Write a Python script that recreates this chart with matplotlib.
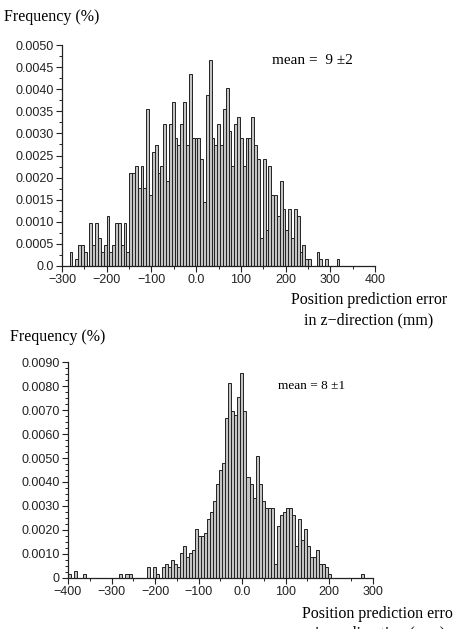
import numpy as np
import matplotlib
matplotlib.use('Agg')
import matplotlib.pyplot as plt
from matplotlib.ticker import MultipleLocator, FixedLocator

# top histogram: z-direction error, counts per bin
z_start = -283.0
z_width = 6.35
z_unit = 0.000161   # frequency of one sample
z_counts = [2, 0, 1, 3, 3, 2, 0, 6, 3, 6,
            4, 2, 3, 7, 2, 3, 6, 6, 3, 6,
            2, 13, 13, 14, 11, 14, 11, 22, 10, 16,
            17, 13, 14, 20, 12, 20, 23, 18, 17, 20,
            23, 17, 27, 18, 18, 18, 15, 9, 24, 29,
            18, 17, 20, 17, 22, 25, 19, 14, 20, 21,
            18, 14, 18, 18, 21, 17, 15, 4, 15, 5,
            14, 10, 10, 7, 12, 8, 5, 8, 4, 8,
            7, 2, 3, 1, 1, 0, 0, 2, 1, 0,
            1, 0, 0, 0, 1]

# bottom histogram: y-direction error
y_start = -400.0
y_width = 6.95
y_unit = 0.000145
y_counts = [1, 0, 2, 0, 0, 1, 0, 0, 0, 0,
            0, 0, 0, 0, 0, 0, 0, 1, 0, 1,
            1, 0, 0, 0, 0, 0, 3, 0, 3, 1,
            0, 3, 4, 3, 5, 4, 3, 7, 9, 6,
            7, 8, 14, 12, 12, 13, 17, 19, 22, 27,
            31, 33, 46, 56, 48, 47, 52, 59, 48, 29,
            27, 23, 35, 27, 22, 20, 20, 20, 4, 15,
            18, 19, 20, 20, 18, 9, 17, 11, 14, 9,
            6, 6, 8, 4, 4, 3, 1, 0, 0, 0,
            0, 0, 0, 0, 0, 0, 0, 1]

z_xticks = [-300, -200, -100, 0, 100, 200, 300, 400]
z_xlabels = ['\u2212300', '\u2212200', '\u2212100', '0.0', '100', '200', '300', '400']
z_yticks = [0, 0.0005, 0.001, 0.0015, 0.002, 0.0025, 0.003, 0.0035, 0.004, 0.0045, 0.005]
z_ylabels = ['0.0', '0.0005', '0.0010', '0.0015', '0.0020', '0.0025', '0.0030',
             '0.0035', '0.0040', '0.0045', '0.0050']

y_xticks = [-400, -300, -200, -100, 0, 100, 200, 300]
y_xlabels = ['\u2212400', '\u2212300', '\u2212200', '\u2212100', '0.0', '100', '200', '300']
y_yticks = [0, 0.001, 0.002, 0.003, 0.004, 0.005, 0.006, 0.007, 0.008, 0.009]
y_ylabels = ['0', '0.0010', '0.0020', '0.0030', '0.0040', '0.0050', '0.0060',
             '0.0070', '0.0080', '0.0090']

SERIF = 'Liberation Serif'
SANS = 'Liberation Sans'
W, H = 453.0, 629.0


def draw_hist(ax, start, width, unit, counts):
    lefts = start + width * np.arange(len(counts))
    heights = np.array(counts) * unit
    ax.bar(lefts, heights, width=width, align='edge', color='#c4c4c4',
           edgecolor='#222222', linewidth=0.7)


def style_axis(ax, xticks, xlabels, yticks, ylabels, xlim, ylim, yminor):
    ax.set_xlim(xlim)
    ax.set_ylim(ylim)
    for s in ['top', 'right']:
        ax.spines[s].set_visible(False)
    for s in ['left', 'bottom']:
        ax.spines[s].set_linewidth(0.9)
        ax.spines[s].set_color('#222222')
    ax.xaxis.set_major_locator(FixedLocator(xticks))
    ax.set_xticklabels(xlabels, fontfamily=SANS, fontsize=9)
    ax.xaxis.set_minor_locator(MultipleLocator(50))
    ax.yaxis.set_major_locator(FixedLocator(yticks))
    ax.set_yticklabels(ylabels, fontfamily=SANS, fontsize=9)
    ax.yaxis.set_minor_locator(MultipleLocator(yminor))
    ax.tick_params(which='major', direction='out', length=4, width=0.8, pad=2, colors='#222222')
    ax.tick_params(which='minor', direction='out', length=2.5, width=0.7, colors='#222222')
    ax.tick_params(axis='both', labelcolor='#222222')


fig = plt.figure(figsize=(W / 100, H / 100), dpi=100)

# top panel
ax1 = fig.add_axes([62 / W, 1 - 266 / H, (375 - 62) / W, (266 - 45) / H])
draw_hist(ax1, z_start, z_width, z_unit, z_counts)
style_axis(ax1, z_xticks, z_xlabels, z_yticks, z_ylabels, (-300, 400), (0, 0.005), 0.00025)
fig.text(4 / W, 1 - 17 / H, 'Frequency (%)', fontfamily=SERIF, fontsize=11.5, va='center')
fig.text(272 / W, 1 - 60 / H, 'mean =  9 \u00b12', fontfamily=SERIF, fontsize=11, va='center')
fig.text(369 / W, 1 - 300 / H, 'Position prediction error', fontfamily=SERIF,
         fontsize=11.5, ha='center', va='center')
fig.text(369 / W, 1 - 320 / H, 'in z\u2212direction (mm)', fontfamily=SERIF,
         fontsize=11.5, ha='center', va='center')

# bottom panel
ax2 = fig.add_axes([68 / W, 1 - 577.7 / H, (372.7 - 68) / W, (577.7 - 362.3) / H])
draw_hist(ax2, y_start, y_width, y_unit, y_counts)
style_axis(ax2, y_xticks, y_xlabels, y_yticks, y_ylabels, (-400, 300), (0, 0.009), 0.00025)
fig.text(10 / W, 1 - 337 / H, 'Frequency (%)', fontfamily=SERIF, fontsize=11.5, va='center')
fig.text(278 / W, 1 - 386 / H, 'mean = 8 \u00b11', fontfamily=SERIF, fontsize=9.5, va='center')
fig.text(380 / W, 1 - 614 / H, 'Position prediction error', fontfamily=SERIF,
         fontsize=11.5, ha='center', va='center')
fig.text(380 / W, 1 - 634 / H, 'in y\u2212direction (mm)', fontfamily=SERIF,
         fontsize=11.5, ha='center', va='center')

fig.savefig('out.png', dpi=100)
